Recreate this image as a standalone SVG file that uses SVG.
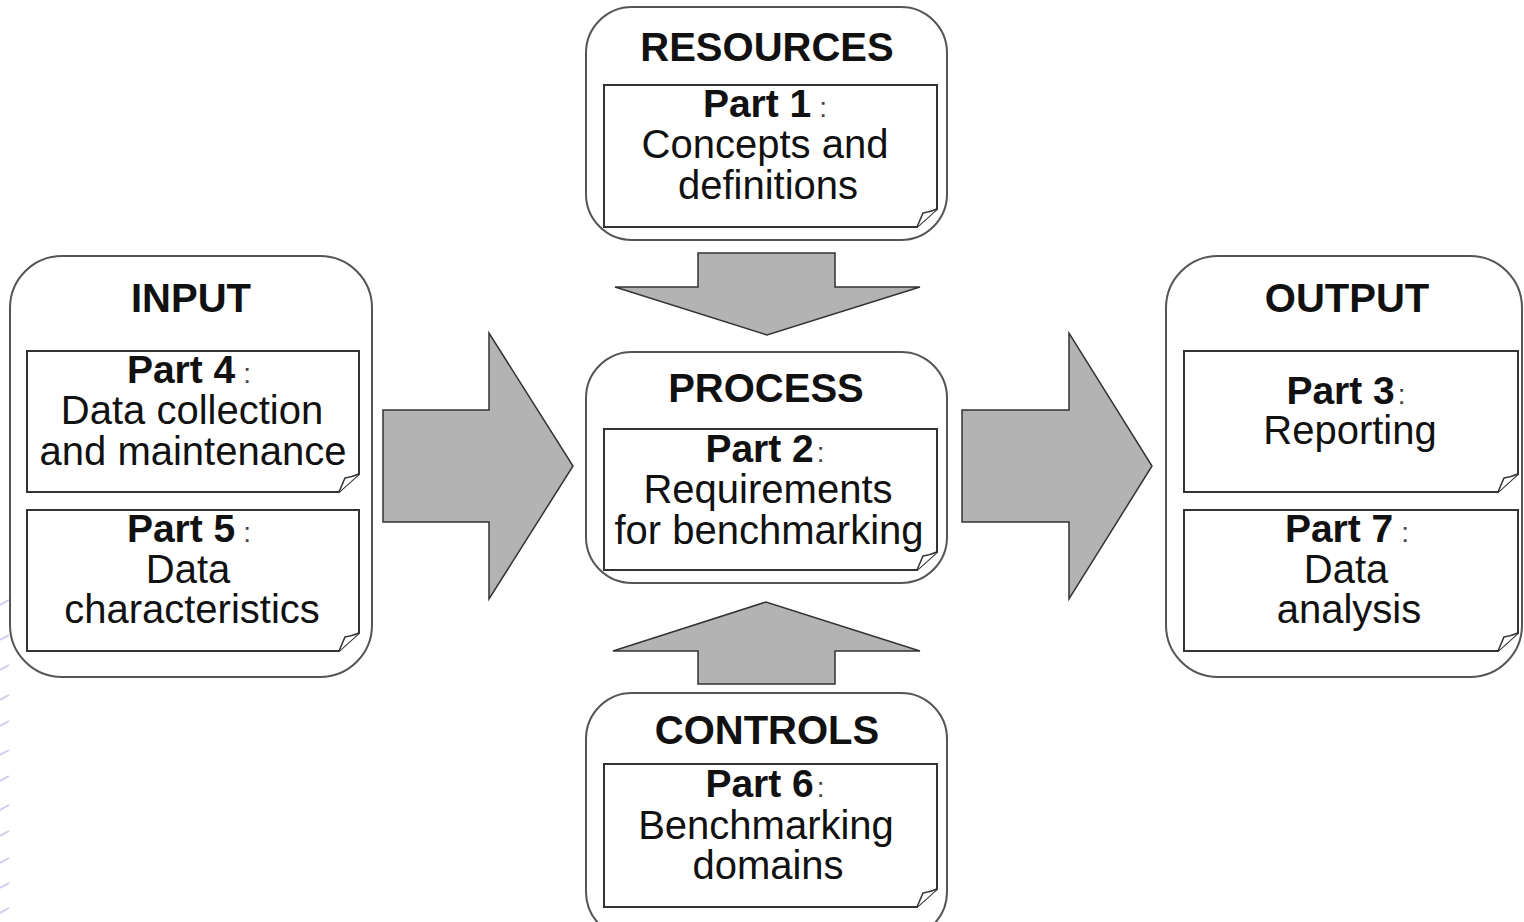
<svg xmlns="http://www.w3.org/2000/svg" width="1524" height="922" viewBox="0 0 1524 922">
<style>
.outer{fill:#fff;stroke:#555;stroke-width:2}
.page{fill:#fff;stroke:#333;stroke-width:2}
.flap{fill:#fff;stroke:#333;stroke-width:1.5}
.arrow{fill:#b3b3b3;stroke:#333;stroke-width:1.5;stroke-linejoin:miter}
.title{font-family:"Liberation Sans",Arial,sans-serif;font-weight:bold;font-size:40px;fill:#111;text-anchor:middle}
.body{font-family:"Liberation Sans",Arial,sans-serif;font-size:40px;fill:#111;text-anchor:middle}
.pt{font-weight:bold;font-size:39px}
.col{font-size:28px;fill:#444}
.deco{stroke:#cdcdf0;stroke-width:2}
</style>
<rect width="1524" height="922" fill="#fff"/>
<g id="decor">
<line class="deco" x1="0" y1="605" x2="9" y2="600"/>
<line class="deco" x1="0" y1="640" x2="9" y2="635"/>
<line class="deco" x1="0" y1="670" x2="9" y2="665"/>
<line class="deco" x1="0" y1="700" x2="9" y2="695"/>
<line class="deco" x1="0" y1="726" x2="9" y2="721"/>
<line class="deco" x1="0" y1="755" x2="9" y2="750"/>
<line class="deco" x1="0" y1="781" x2="9" y2="776"/>
<line class="deco" x1="0" y1="810" x2="9" y2="805"/>
<line class="deco" x1="0" y1="836" x2="9" y2="831"/>
<line class="deco" x1="0" y1="863" x2="9" y2="858"/>
<line class="deco" x1="0" y1="888" x2="9" y2="883"/>
<line class="deco" x1="0" y1="913" x2="9" y2="908"/>
</g>
<g id="connectors">
<polygon class="arrow" points="383,410 489,410 489,333 573,466 489,599 489,522 383,522"/>
<polygon class="arrow" points="962,410 1069,410 1069,333 1152,466 1069,599 1069,522 962,522"/>
<polygon class="arrow" points="698,253 835,253 835,287 920,287 767,335 615,287 698,287"/>
<polygon class="arrow" points="698,684 835,684 835,651 920,651 766,602 613,651 698,651"/>
</g>
<g id="resources">
<rect class="outer" x="586" y="7" width="361" height="233" rx="46"/>
<path class="page" d="M604,85 H937 V209 L917,227 H604 Z"/>
<path class="flap" d="M937,209 Q930,212 923,213 L917,227"/>
<text class="title" x="767" y="61">RESOURCES</text>
<text class="body" x="765" y="117"><tspan class="pt">Part 1</tspan><tspan class="col" dx="8">:</tspan></text>
<text class="body" x="765" y="158">Concepts and</text>
<text class="body" x="768" y="199">definitions</text>
</g>
<g id="process">
<rect class="outer" x="586" y="352" width="361" height="231" rx="46"/>
<path class="page" d="M604,429 H937 V552 L917,570 H604 Z"/>
<path class="flap" d="M937,552 Q930,555 923,556 L917,570"/>
<text class="title" x="766" y="402">PROCESS</text>
<text class="body" x="765" y="462"><tspan class="pt">Part 2</tspan><tspan class="col" dx="3">:</tspan></text>
<text class="body" x="768" y="503">Requirements</text>
<text class="body" x="769" y="544">for benchmarking</text>
</g>
<g id="controls">
<rect class="outer" x="586" y="693" width="361" height="245" rx="46"/>
<path class="page" d="M604,764 H937 V889 L917,907 H604 Z"/>
<path class="flap" d="M937,889 Q930,892 923,893 L917,907"/>
<text class="title" x="767" y="744">CONTROLS</text>
<text class="body" x="765" y="797"><tspan class="pt">Part 6</tspan><tspan class="col" dx="3">:</tspan></text>
<text class="body" x="766" y="839">Benchmarking</text>
<text class="body" x="768" y="879">domains</text>
</g>
<g id="input">
<rect class="outer" x="10" y="256" width="362" height="421" rx="52"/>
<path class="page" d="M27,351 H359 V474 L339,492 H27 Z"/>
<path class="flap" d="M359,474 Q352,477 345,478 L339,492"/>
<path class="page" d="M27,510 H359 V633 L339,651 H27 Z"/>
<path class="flap" d="M359,633 Q352,636 345,637 L339,651"/>
<text class="title" x="191" y="312">INPUT</text>
<text class="body" x="189" y="383"><tspan class="pt">Part 4</tspan><tspan class="col" dx="8">:</tspan></text>
<text class="body" x="192" y="424">Data collection</text>
<text class="body" x="193" y="465">and maintenance</text>
<text class="body" x="189" y="542"><tspan class="pt">Part 5</tspan><tspan class="col" dx="8">:</tspan></text>
<text class="body" x="188" y="583">Data</text>
<text class="body" x="192" y="623">characteristics</text>
</g>
<g id="output">
<rect class="outer" x="1166" y="256" width="356" height="421" rx="52"/>
<path class="page" d="M1184,351 H1518 V474 L1498,492 H1184 Z"/>
<path class="flap" d="M1518,474 Q1511,477 1504,478 L1498,492"/>
<path class="page" d="M1184,510 H1518 V633 L1498,651 H1184 Z"/>
<path class="flap" d="M1518,633 Q1511,636 1504,637 L1498,651"/>
<text class="title" x="1347" y="312">OUTPUT</text>
<text class="body" x="1346" y="404"><tspan class="pt">Part 3</tspan><tspan class="col" dx="3">:</tspan></text>
<text class="body" x="1350" y="444">Reporting</text>
<text class="body" x="1347" y="542"><tspan class="pt">Part 7</tspan><tspan class="col" dx="8">:</tspan></text>
<text class="body" x="1346" y="583">Data</text>
<text class="body" x="1349" y="623">analysis</text>
</g>
</svg>
